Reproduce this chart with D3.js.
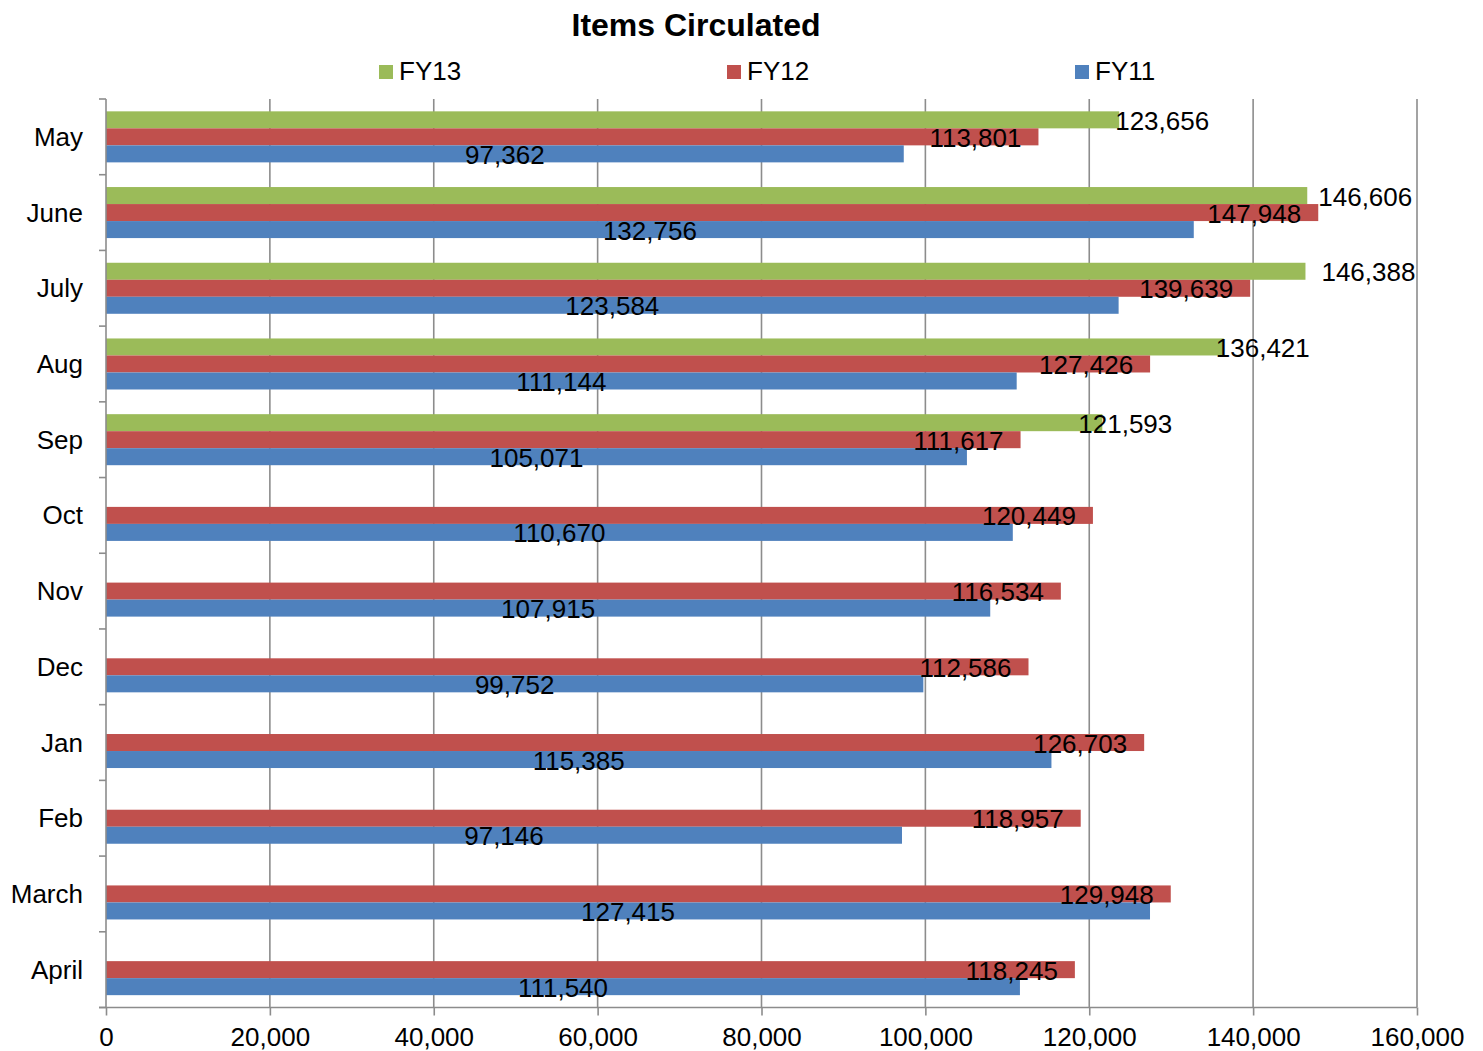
<!DOCTYPE html>
<html>
<head>
<meta charset="utf-8">
<script src="https://cdn.jsdelivr.net/npm/d3@7"></script>
<style>
  html, body { margin: 0; padding: 0; background: #fff; }
  svg text { font-family: "Liberation Sans", Arial, sans-serif; fill: #000; }
</style>
</head>
<body>
<svg id="chart" width="1483" height="1051"></svg>
<script>
// Monthly circulation counts by fiscal year
const months = ["May", "June", "July", "Aug", "Sep", "Oct", "Nov", "Dec", "Jan", "Feb", "March", "April"];
const fy13 = [123656, 146606, 146388, 136421, 121593, null, null, null, null, null, null, null];
const fy12 = [113801, 147948, 139639, 127426, 111617, 120449, 116534, 112586, 126703, 118957, 129948, 118245];
const fy11 = [97362, 132756, 123584, 111144, 105071, 110670, 107915, 99752, 115385, 97146, 127415, 111540];
const xTicks = [0, 20000, 40000, 60000, 80000, 100000, 120000, 140000, 160000];
const seriesNames = ["FY13", "FY12", "FY11"];

const colors = { FY13: "#9BBB59", FY12: "#C0504D", FY11: "#4F81BD" };
const gridColor = "#8c8c8c";
// hand-placed offsets of the FY13 value labels from their bar ends
const fy13LabelShift = [-4, 11, 16, -8, -24];

const series = [
  { name: "FY13", values: fy13 },
  { name: "FY12", values: fy12 },
  { name: "FY11", values: fy11 }
];

const svg = d3.select("#chart");
const margin = { left: 106, right: 66, top: 99, bottom: 43.5 };
const W = 1483, H = 1051;
const x = d3.scaleLinear().domain([0, 160000]).range([margin.left, W - margin.right]);
const yOuter = d3.scaleBand().domain(months).range([margin.top, H - margin.bottom]);
const y = d3.scaleBand().domain(months).range([margin.top, H - margin.bottom])
  .paddingInner(0.326).paddingOuter(0.163);
const ySub = d3.scaleBand().domain(seriesNames).range([0, y.bandwidth()]);
const fmt = d3.format(",");
const plotTop = margin.top, plotBottom = H - margin.bottom;

// vertical gridlines
svg.append("g").selectAll("line").data(xTicks.slice(1)).join("line")
  .attr("x1", d => x(d)).attr("x2", d => x(d))
  .attr("y1", plotTop).attr("y2", plotBottom)
  .attr("stroke", gridColor).attr("stroke-width", 1.6);

// bars
const barG = svg.append("g");
series.forEach(s => {
  barG.append("g").selectAll("rect")
    .data(months.map((m, i) => ({ m, v: s.values[i] })).filter(d => d.v != null))
    .join("rect")
    .attr("x", x(0))
    .attr("y", d => y(d.m) + ySub(s.name))
    .attr("width", d => x(d.v) - x(0))
    .attr("height", ySub.bandwidth())
    .attr("fill", colors[s.name]);
});

// axes
const xAxis = d3.axisBottom(x).tickValues(xTicks).tickFormat(fmt).tickSize(8).tickPadding(12);
const gx = svg.append("g").attr("transform", `translate(0,${plotBottom})`).call(xAxis);
gx.select(".domain").attr("stroke", gridColor).attr("stroke-width", 1.6)
  .attr("d", `M${x(0) - 7},0H${x(160000)}`);
gx.selectAll(".tick line").attr("stroke", gridColor).attr("stroke-width", 1.6);
gx.selectAll(".tick text").attr("font-size", 26).attr("font-family", "Liberation Sans, Arial, sans-serif").attr("fill", "#000");

const gy = svg.append("g").attr("transform", `translate(${x(0)},0)`);
gy.append("line").attr("x1", 0).attr("x2", 0).attr("y1", plotTop).attr("y2", plotBottom)
  .attr("stroke", gridColor).attr("stroke-width", 1.6);
const boundaries = months.map(m => yOuter(m)).concat([plotBottom]);
gy.selectAll("line.tk").data(boundaries).join("line").attr("class", "tk")
  .attr("x1", -7).attr("x2", 0).attr("y1", d => d).attr("y2", d => d)
  .attr("stroke", gridColor).attr("stroke-width", 1.6);
gy.selectAll("text").data(months).join("text")
  .attr("x", -23).attr("y", d => yOuter(d) + yOuter.bandwidth() / 2)
  .attr("text-anchor", "end").attr("dominant-baseline", "central")
  .attr("font-size", 26).text(d => d);

// value labels
const labelG = svg.append("g");
series.forEach(s => {
  const data = months.map((m, i) => ({ m, i, v: s.values[i] })).filter(d => d.v != null);
  labelG.append("g").selectAll("text").data(data).join("text")
    .attr("font-size", 26)
    .attr("dominant-baseline", "central")
    .attr("dy", 1)
    .attr("y", d => y(d.m) + ySub(s.name) + ySub.bandwidth() / 2)
    .attr("x", d => {
      if (s.name === "FY13") return x(d.v) + fy13LabelShift[d.i];
      if (s.name === "FY12") return x(d.v) - 17;
      return (x(0) + x(d.v)) / 2;
    })
    .attr("text-anchor", s.name === "FY13" ? "start" : s.name === "FY12" ? "end" : "middle")
    .text(d => fmt(d.v));
});

// title
svg.append("text").attr("x", 696).attr("y", 36).attr("text-anchor", "middle")
  .attr("font-size", 32).attr("font-weight", "bold").text("Items Circulated");

// legend
const legendX = [379, 727, 1075];
const lg = svg.append("g").selectAll("g").data(seriesNames).join("g")
  .attr("transform", (d, i) => `translate(${legendX[i]},65)`);
lg.append("rect").attr("width", 14).attr("height", 14).attr("fill", d => colors[d]);
lg.append("text").attr("x", 20).attr("y", 6).attr("dominant-baseline", "central")
  .attr("font-size", 26).text(d => d);
</script>
</body>
</html>
